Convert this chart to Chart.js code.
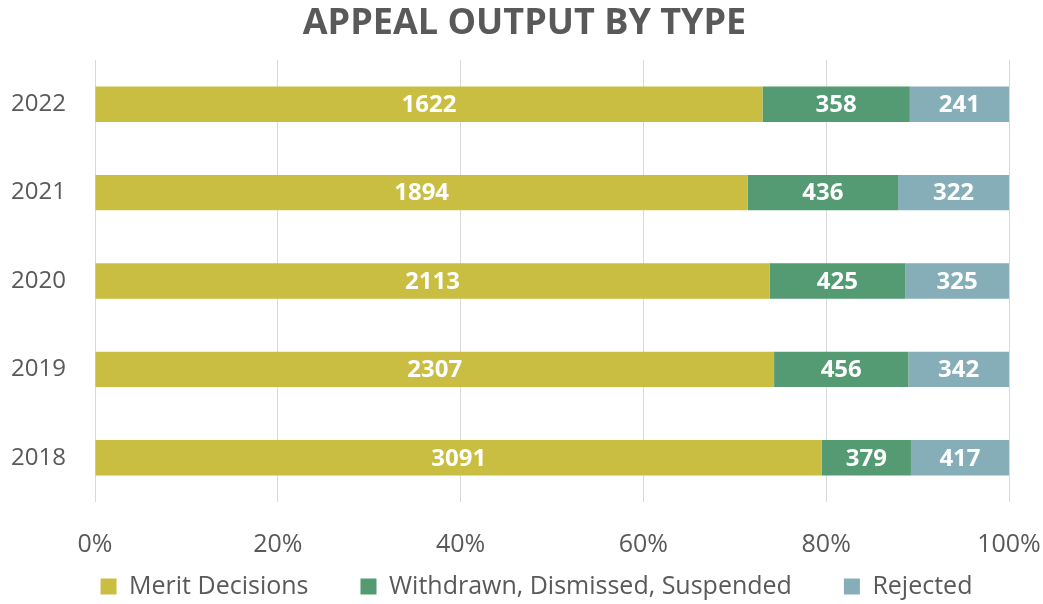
<!DOCTYPE html>
<html>
<head>
<meta charset="utf-8">
<script src="https://cdn.jsdelivr.net/npm/chart.js@4.4.1/dist/chart.umd.min.js"></script>
<style>
html,body{margin:0;padding:0;background:#fff;}
#wrap{width:1043px;height:604px;position:relative;}
</style>
</head>
<body>
<div id="wrap"><canvas id="c" width="1043" height="604"></canvas></div>
<script>
const years = ["2022", "2021", "2020", "2019", "2018"];
const meritDecisions = [1622, 1894, 2113, 2307, 3091];
const withdrawnDismissedSuspended = [358, 436, 425, 456, 379];
const rejected = [241, 322, 325, 342, 417];
const seriesNames = ["Merit Decisions", "Withdrawn, Dismissed, Suspended", "Rejected"];
const seriesColors = ["#C9BE42", "#549A72", "#86AEB8"];
const xTickLabels = ["0%", "20%", "40%", "60%", "80%", "100%"];

const FONT = "'Open Sans', 'Noto Sans', sans-serif";
const TEXT = '#595959';
const LEGEND_FONT = 25;
const LEGEND_PAD = 52;
const LEGEND_SHIFT = 32;
const TITLE_SHIFT = 20;
const PLOT_BOTTOM = 502;
const XAXIS_H = 62;
const LEGEND_H = 604 - PLOT_BOTTOM - XAXIS_H;
const LEGEND_TOP = 522;

const totals = years.map((_, i) => meritDecisions[i] + withdrawnDismissedSuspended[i] + rejected[i]);
const raw = [meritDecisions, withdrawnDismissedSuspended, rejected];

const datasets = raw.map((arr, k) => ({
  label: seriesNames[k],
  data: arr.map((v, i) => v / totals[i] * 100),
  counts: arr,
  backgroundColor: seriesColors[k],
  borderWidth: 0,
  categoryPercentage: 1,
  barPercentage: 0.4
}));

const labelPlugin = {
  id: 'barLabels',
  beforeLayout(chart) {
    const lg = chart.legend;
    if (lg && !lg._patchedFit) {
      const origFit = lg.fit;
      lg.fit = function () {
        origFit.call(this);
        this.height = LEGEND_H;
      };
      lg._patchedFit = true;
    }
  },
  afterLayout(chart) {
    const lg = chart.legend;
    if (lg) {
      lg.left += LEGEND_SHIFT;
      lg.right += LEGEND_SHIFT;
      lg.top = LEGEND_TOP;
      lg.bottom = 604;
      lg.height = 604 - LEGEND_TOP;
    }
    const t = chart.titleBlock;
    if (t) {
      t.left += TITLE_SHIFT;
      t.right += TITLE_SHIFT;
    }
  },
  afterDatasetsDraw(chart) {
    const ctx = chart.ctx;
    ctx.save();
    ctx.fillStyle = '#FFFFFF';
    ctx.font = "bold 24px " + FONT;
    ctx.textAlign = 'center';
    ctx.textBaseline = 'middle';
    chart.data.datasets.forEach((ds, di) => {
      const meta = chart.getDatasetMeta(di);
      meta.data.forEach((bar, i) => {
        const cx = (bar.x + bar.base) / 2;
        ctx.fillText(String(ds.counts[i]), cx, bar.y + 1);
      });
    });
    ctx.restore();
  }
};

new Chart(document.getElementById('c'), {
  type: 'bar',
  data: { labels: years, datasets },
  options: {
    indexAxis: 'y',
    responsive: false,
    animation: false,
    layout: { padding: { left: 0, right: 34, top: 0, bottom: 0 } },
    plugins: {
      title: {
        display: true,
        text: 'APPEAL OUTPUT BY TYPE',
        color: TEXT,
        font: { family: FONT, size: 36, weight: 'bold' },
        padding: { top: 2, bottom: 14.8 }
      },
      legend: {
        position: 'bottom',
        labels: {
          color: TEXT,
          font: { family: FONT, size: LEGEND_FONT },
          boxWidth: 16,
          boxHeight: 16,
          padding: LEGEND_PAD
        }
      },
      tooltip: { enabled: false }
    },
    scales: {
      x: {
        stacked: true,
        min: 0,
        max: 100,
        ticks: {
          stepSize: 20,
          color: TEXT,
          font: { family: FONT, size: 25 },
          padding: 0,
          callback: (v, i) => xTickLabels[i]
        },
        grid: { color: '#D9D9D9', lineWidth: 1, drawTicks: true, tickLength: 28, tickColor: 'rgba(0,0,0,0)' },
        border: { display: false },
        afterFit(scale) { scale.height = XAXIS_H; }
      },
      y: {
        stacked: true,
        ticks: {
          color: TEXT,
          font: { family: FONT, size: 24 },
          padding: 21
        },
        grid: { display: false },
        border: { display: false },
        afterFit(scale) { scale.width = 95; }
      }
    }
  },
  plugins: [labelPlugin]
});
</script>
</body>
</html>
